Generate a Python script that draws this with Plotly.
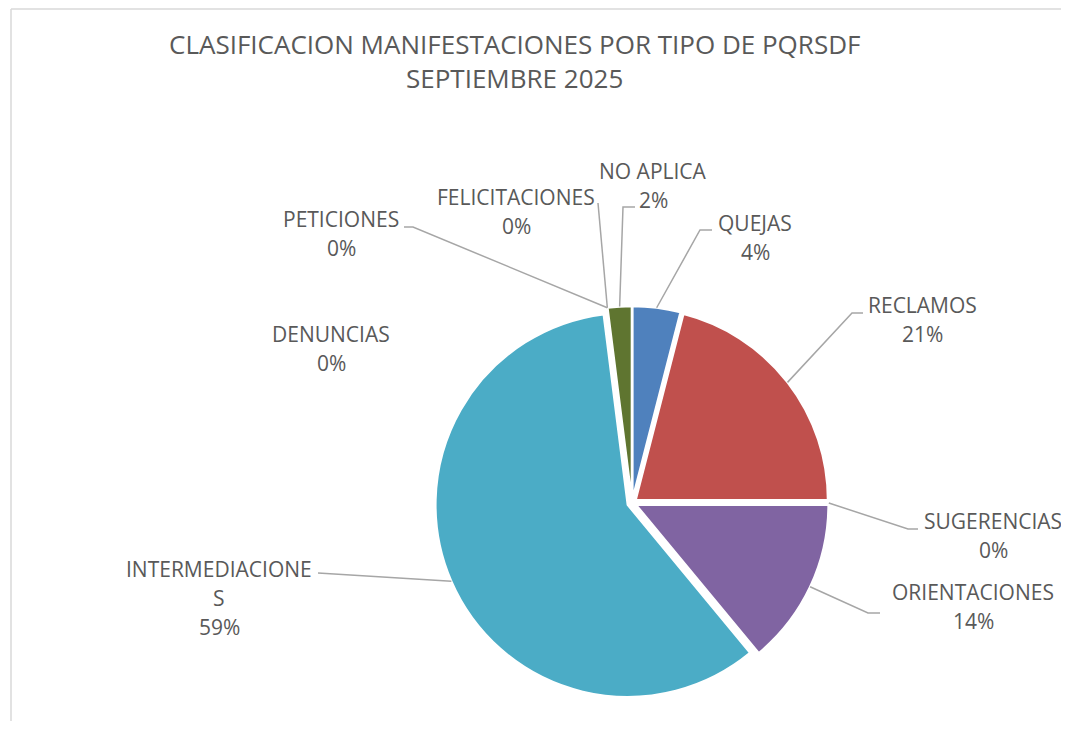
import math
import plotly.graph_objects as go

# ---------------- data ----------------
categories = ["QUEJAS", "RECLAMOS", "SUGERENCIAS", "ORIENTACIONES", "INTERMEDIACIONES",
              "DENUNCIAS", "PETICIONES", "FELICITACIONES", "NO APLICA"]
percentages = [4, 21, 0, 14, 59, 0, 0, 0, 2]
colors = ["#4F81BD", "#C0504D", "#9BBB59", "#8064A2", "#4BACC6",
          "#F79646", "#2C4D75", "#772C2A", "#5F7530"]
label_text = {"INTERMEDIACIONES": ["INTERMEDIACIONE", "S"]}
title_lines = ["CLASIFICACION MANIFESTACIONES POR TIPO DE PQRSDF", "SEPTIEMBRE 2025"]

# ---------------- layout constants (window pixels) ----------------
OFF = 8                     # default page body margin
FW, FH = 1061, 713          # figure size
CX, CY, R = 632, 503, 192
PULL = 0.025
FONT = "Open Sans"
TXT = "#595959"
LINE = "#A6A6A6"
LINE_SP = 29

# label center x, first line center y, leader path points (after slice point)
label_layout = {
    "QUEJAS": (755, 223, [(700, 230), (712, 230)]),
    "RECLAMOS": (922, 305, [(852, 313), (863, 313)]),
    "SUGERENCIAS": (993, 521, [(908, 529), (918, 529)]),
    "ORIENTACIONES": (973, 592, [(868, 613), (880, 613)]),
    "INTERMEDIACIONES": (219, 569, [(318, 573)]),
    "DENUNCIAS": (331, 334, None),
    "PETICIONES": (341, 219, [(413, 227), (404, 227)]),
    "FELICITACIONES": (516, 197, [(598, 203)]),
    "NO APLICA": (653, 171, [(623, 207), (635, 207)]),
}


def px(x):
    return (x - OFF) / FW


def py(y):
    return 1 - (y - OFF) / FH


half = R * (1 + PULL)
fig = go.Figure(go.Pie(
    labels=categories,
    values=percentages,
    sort=False,
    direction="clockwise",
    rotation=0,
    pull=[PULL] * len(categories),
    marker=dict(colors=colors, line=dict(color="white", width=2)),
    textinfo="none",
    hoverinfo="label+percent",
    showlegend=False,
    domain=dict(x=[px(CX - half), px(CX + half)], y=[py(CY + half), py(CY - half)]),
))

annotations = []
shapes = []
total = sum(percentages)
cum = 0
for cat, val in zip(categories, percentages):
    mid = (cum + val / 2) / total * 2 * math.pi
    cum += val
    sx = CX + R * (1 + PULL) * math.sin(mid)
    sy = CY - R * (1 + PULL) * math.cos(mid)
    lx, ly, pts = label_layout[cat]
    lines = label_text.get(cat, [cat]) + [f"{val}%"]
    for i, t in enumerate(lines):
        annotations.append(dict(
            x=px(lx), y=py(ly + i * LINE_SP), xref="paper", yref="paper",
            text=t, showarrow=False, xanchor="center", yanchor="middle",
            font=dict(family=FONT, size=21, color=TXT)))
    if pts:
        path = f"M {px(sx)} {py(sy)}" + "".join(f" L {px(a)} {py(b)}" for a, b in pts)
        shapes.append(dict(type="path", xref="paper", yref="paper", path=path,
                           line=dict(color=LINE, width=1.5)))

for i, t in enumerate(title_lines):
    annotations.append(dict(
        x=px(514), y=py(44 + i * 34), xref="paper", yref="paper",
        text=t, showarrow=False, xanchor="center", yanchor="middle",
        font=dict(family=FONT, size=26, color=TXT)))

# chart border (left and top edges visible)
shapes.append(dict(type="line", xref="paper", yref="paper", x0=px(11), x1=px(11),
                   y0=py(9), y1=py(OFF + FH + 5), line=dict(color="#D9D9D9", width=1.5)))
shapes.append(dict(type="line", xref="paper", yref="paper", x0=px(11), x1=px(OFF + FW + 5),
                   y0=py(9), y1=py(9), line=dict(color="#D9D9D9", width=1.5)))

fig.update_layout(
    width=FW, height=FH,
    margin=dict(l=0, r=0, t=0, b=0),
    paper_bgcolor="white", plot_bgcolor="white",
    annotations=annotations, shapes=shapes,
)
fig.write_html("out.html", config={"displayModeBar": False})
